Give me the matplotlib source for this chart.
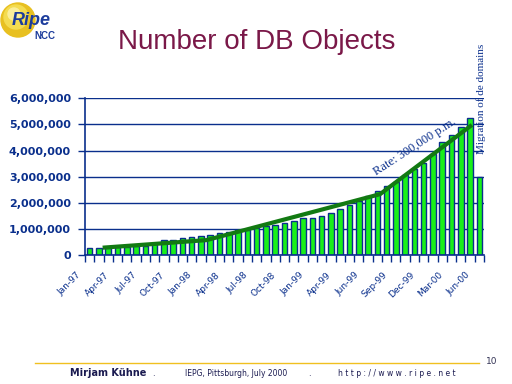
"""Number of DB objects (RIPE NCC slide, July 2000)."""

import matplotlib
matplotlib.use("Agg")
import matplotlib.pyplot as plt
import matplotlib.transforms as mtransforms
from matplotlib.patches import Circle
import numpy as np

# monthly categories (one month appears twice in the source data)
months = [
    "Jan-97", "Feb-97", "Mar-97", "Apr-97", "May-97", "Jun-97", "Jul-97", "Aug-97",
    "Sep-97", "Oct-97", "Nov-97", "Dec-97", "Jan-98", "Feb-98", "Mar-98", "Apr-98",
    "May-98", "Jun-98", "Jul-98", "Aug-98", "Sep-98", "Oct-98", "Nov-98", "Dec-98",
    "Jan-99", "Feb-99", "Mar-99", "Apr-99", "May-99", "May-99", "Jun-99", "Jul-99",
    "Aug-99", "Sep-99", "Oct-99", "Nov-99", "Dec-99", "Jan-00", "Feb-00", "Mar-00",
    "Apr-00", "May-00", "Jun-00",
]
# number of objects (millions)
objects_m = [
    0.255, 0.26, 0.28, 0.29, 0.31, 0.33, 0.36, 0.42, 0.57, 0.57,
    0.65, 0.69, 0.73, 0.77, 0.84, 0.89, 0.96, 0.97, 1.02, 1.11,
    1.15, 1.24, 1.30, 1.40, 1.40, 1.49, 1.60, 1.76, 1.91, 2.05,
    2.26, 2.45, 2.65, 2.81, 3.07, 3.28, 3.52, 3.88, 4.32, 4.60,
    4.90, 5.24, 2.98,
]
# hand-drawn trend line (category position, millions)
trend_pos = [1.4, 12.6, 31.3, 41.2]
trend_m = [0.28, 0.57, 2.33, 4.98]

y_ticks = [0, 1000000, 2000000, 3000000, 4000000, 5000000, 6000000]
y_ticklabels = ["0", "1,000,000", "2,000,000", "3,000,000", "4,000,000",
                "5,000,000", "6,000,000"]

NAVY = "#0a2f8c"
GREEN = "#19f019"
DARK_GREEN = "#127a12"

W, H = 512, 384
fig = plt.figure(figsize=(W / 100, H / 100), dpi=100, facecolor="white")


def fx(px):
    return px / W


def fy(py):
    return 1 - py / H


ax = fig.add_axes([fx(85), fy(255), fx(484) - fx(85), fy(98.3) - fy(255)])
x = np.arange(len(months))
vals = np.array(objects_m) * 1e6

ax.bar(x, vals, width=0.6, color=GREEN, edgecolor=NAVY, linewidth=1.0, zorder=2)
ax.plot(trend_pos, np.array(trend_m) * 1e6, color=DARK_GREEN, linewidth=3.0,
        solid_capstyle="butt", zorder=3)

ax.set_xlim(-0.5, len(months) - 0.5)
ax.set_ylim(0, 6000000)
ax.set_yticks(y_ticks)
ax.set_yticklabels(y_ticklabels, fontsize=8, fontweight="bold", color=NAVY,
                   family="DejaVu Sans")
ax.yaxis.grid(True, color=NAVY, linewidth=1.0, zorder=1)
ax.set_axisbelow(True)
ax.tick_params(axis="y", length=5, width=1, color=NAVY, pad=5, direction="out")

lab_idx = list(range(0, len(months), 3))
ax.set_xticks(lab_idx)
ax.set_xticklabels([months[i] for i in lab_idx], rotation=45, ha="right",
                   va="top", fontsize=6.5, color=NAVY)
ax.set_xticks(np.arange(-0.5, len(months)), minor=True)
ax.tick_params(axis="x", which="major", length=0, pad=11)
ax.tick_params(axis="x", which="minor", length=5, width=1, color=NAVY,
               direction="out")
shift = mtransforms.ScaledTranslation(-7 / 100, 0, fig.dpi_scale_trans)
for lab in ax.get_xticklabels():
    lab.set_transform(lab.get_transform() + shift)

for side in ("top", "right"):
    ax.spines[side].set_visible(False)
for side in ("left", "bottom"):
    ax.spines[side].set_color(NAVY)
    ax.spines[side].set_linewidth(1.2)

ax.text(31.1, 2.95e6, "Rate: 300,000 p.m.", rotation=33, rotation_mode="anchor",
        ha="left", va="bottom", fontsize=9, color=NAVY, family="Liberation Serif")
fig.text(fx(481), fy(99), "Migration of de domains", rotation=90, ha="center",
         va="center", fontsize=8, color=NAVY, family="Liberation Serif")

# title
fig.text(fx(257), fy(42), "Number of DB Objects", ha="center", va="center",
         fontsize=20, color="#7a1848", family="Liberation Sans")

# logo
logo_ax = fig.add_axes([0, fy(45), fx(64), 45 / H])
logo_ax.set_xlim(0, 64)
logo_ax.set_ylim(45, 0)
logo_ax.set_aspect("equal")
logo_ax.axis("off")
logo_ax.add_patch(Circle((18, 20), 17, color="#e8c020"))
logo_ax.add_patch(Circle((16, 17), 12, color="#f4dc50"))
logo_ax.add_patch(Circle((14, 14), 6, color="#fbef9a"))
logo_ax.text(12, 25, "Ripe", fontsize=13, fontweight="bold", style="italic",
             color="#1c3c9c", family="Liberation Sans", va="baseline")
logo_ax.text(34, 39, "NCC", fontsize=7, fontweight="bold", color="#1c3c9c",
             family="Liberation Sans", va="baseline")

# footer
fig.add_artist(plt.Line2D([fx(35), fx(479)], [fy(363), fy(363)], color="#f0c020",
                          linewidth=1.0))
fig.text(fx(492), fy(362), "10", fontsize=6.5, color="#333355", ha="center",
         va="center")
fig.text(fx(70), fy(373.5), "Mirjam Kühne", fontsize=7, fontweight="bold",
         color="#1a1a50", ha="left", va="center")
fig.text(fx(153), fy(374), ".", fontsize=6, color="#1a1a50", ha="center", va="center")
fig.text(fx(185), fy(373.5), "IEPG, Pittsburgh, July 2000", fontsize=5.5,
         color="#1a1a50", ha="left", va="center")
fig.text(fx(309), fy(374), ".", fontsize=6, color="#1a1a50", ha="center", va="center")
fig.text(fx(338), fy(373.5), "h t t p : / / w w w . r i p e . n e t", fontsize=5.5,
         color="#1a1a50", ha="left", va="center")

fig.savefig("out.png", dpi=100, facecolor="white")
